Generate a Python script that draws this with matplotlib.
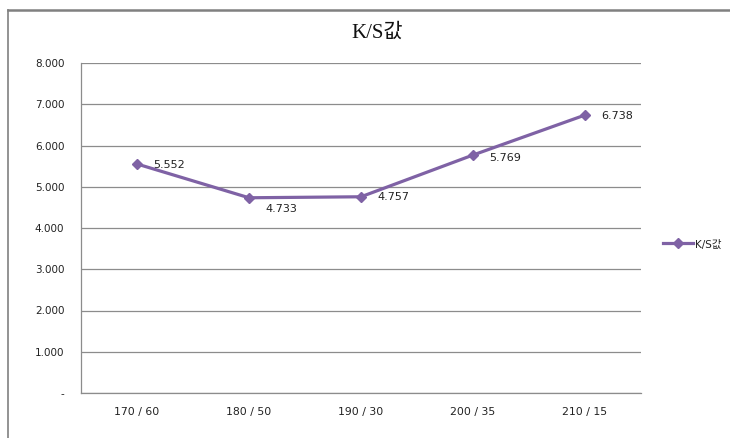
import matplotlib
matplotlib.use("Agg")
import matplotlib.pyplot as plt
from matplotlib.lines import Line2D

categories = ["170 / 60", "180 / 50", "190 / 30", "200 / 35", "210 / 15"]
ks_values = [5.552, 4.733, 4.757, 5.769, 6.738]
y_ticks = [0, 1, 2, 3, 4, 5, 6, 7, 8]
y_tick_labels = ["-", "1.000", "2.000", "3.000", "4.000", "5.000", "6.000", "7.000", "8.000"]
series_name = "K/S값"

PURPLE = "#7f62a5"
GRID = "#8c8c8c"
KR = ["DejaVu Sans", "Noto Sans CJK KR"]

W, H = 730, 438
fig = plt.figure(figsize=(W / 100, H / 100), dpi=100)
ax = fig.add_axes([81 / W, 1 - 393 / H, 560 / W, 330 / H])

x = list(range(len(categories)))
ax.plot(x, ks_values, color=PURPLE, lw=2.3, marker="D", ms=5.5,
        mec=PURPLE, mfc=PURPLE, zorder=3)

# value labels sit to the right of each point
offsets = [(5, -1), (5, -8), (5, 0), (5, -2), (5, -1)]
for xi, v, (dx, dy) in zip(x, ks_values, offsets):
    ax.annotate(f"{v:.3f}", (xi, v), xytext=(dx + 7, dy), textcoords="offset points",
                fontsize=8, color="#222222", va="center", ha="left")

ax.set_xlim(-0.5, len(categories) - 0.5)
ax.set_ylim(0, 8)
ax.set_yticks(y_ticks)
ax.set_yticklabels(y_tick_labels, fontsize=7.5, color="#222222")
ax.set_xticks(x)
ax.set_xticklabels(categories, fontsize=7.8, color="#222222")
ax.tick_params(length=0, pad=12)
ax.tick_params(axis="x", pad=10)
ax.yaxis.grid(True, color=GRID, lw=0.9)
ax.set_axisbelow(True)
for side in ["top", "right"]:
    ax.spines[side].set_visible(False)
for side in ["left", "bottom"]:
    ax.spines[side].set_color(GRID)
    ax.spines[side].set_linewidth(0.9)

fig.text(377 / W, 1 - 33 / H, series_name, ha="center", va="center",
         fontsize=15, family=["Liberation Serif", "Noto Sans CJK KR"], color="#111111")

# legend entry at the right
fig.add_artist(Line2D([663 / W, 693 / W], [1 - 243 / H] * 2, color=PURPLE, lw=2.3,
                      transform=fig.transFigure))
fig.add_artist(Line2D([678 / W], [1 - 243 / H], color=PURPLE, marker="D", ms=5.5,
                      transform=fig.transFigure))
fig.text(695 / W, 1 - 245 / H, series_name, ha="left", va="center",
         fontsize=7.5, family=KR, color="#222222")

# chart frame: top and left edges
fig.add_artist(Line2D([8 / W, 1], [1 - 10 / H] * 2, color="#808080", lw=1.8,
                      transform=fig.transFigure))
fig.add_artist(Line2D([8 / W, 8 / W], [1 - 10 / H, 0], color="#808080", lw=1.2,
                      transform=fig.transFigure))

fig.savefig("out.png", dpi=100)
